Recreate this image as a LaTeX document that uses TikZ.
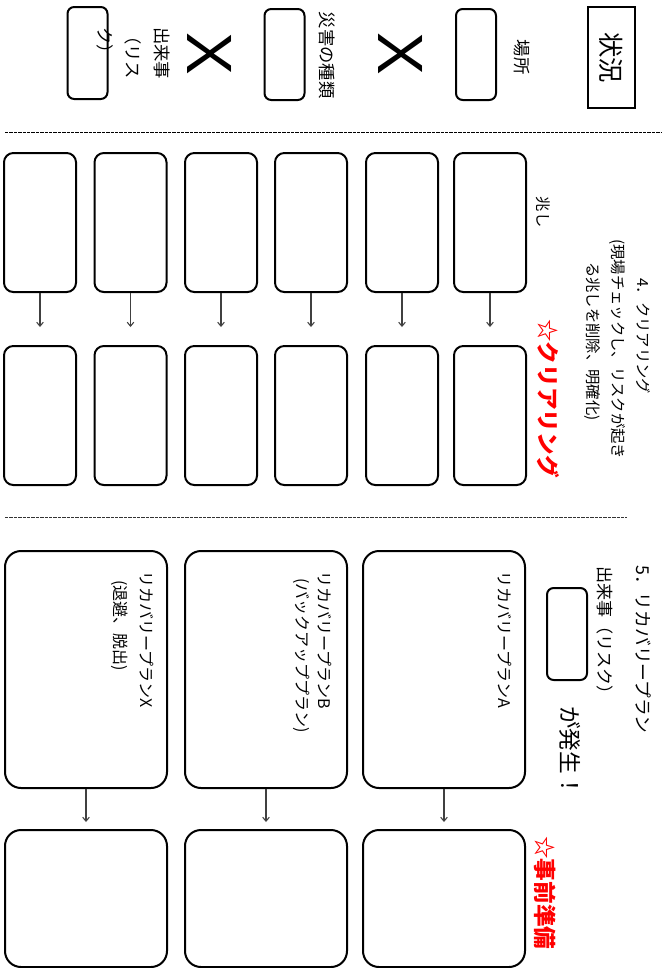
\documentclass[tikz,border=0pt]{standalone}
\usepackage{fontspec}
\setmainfont{Noto Sans CJK JP}
\newfontfamily\xfont{Liberation Sans}
\usetikzlibrary{arrows.meta}
\tikzset{
  rbox/.style={draw, line width=1.5pt, rounded corners=5pt, inner sep=0pt},
  mbox/.style={draw, line width=1.5pt, rounded corners=7pt, inner sep=0pt, minimum width=54pt, minimum height=104.25pt},
  bbox/.style={draw, line width=1.5pt, rounded corners=12pt, inner sep=0pt, minimum width=121.5pt},
  vtext/.style={rotate=-90, inner sep=0pt, font=\fontsize{11.5pt}{14pt}\selectfont},
  ttext/.style={rotate=-90, inner sep=0pt, font=\fontsize{13pt}{15pt}\selectfont},
  xmark/.style={rotate=-90, inner sep=0pt, font=\xfont\fontsize{48pt}{50pt}\selectfont},
  redtext/.style={rotate=-90, inner sep=0pt, text=red, font=\fontsize{17pt}{20pt}\selectfont\bfseries},
  arr/.style={draw=black!75, line width=0.8pt, -{Straight Barb[length=3pt,width=5pt]}},
  sep/.style={line width=0.7pt, dash pattern=on 2.5pt off 0.8pt}
}
\begin{document}
\begin{tikzpicture}[x=0.75pt,y=-0.75pt]
\useasboundingbox (0,0) rectangle (668,968);

% ---- top: situation ----
\node[draw, line width=1.5pt, inner sep=0pt, minimum width=35.25pt, minimum height=75.75pt] (jokyo) at (611.5,57.5) {};
\node[rotate=-90, inner sep=0pt, font=\fontsize{19pt}{22pt}\selectfont] (jokyot) at (611.5,57.5) {状況};

\node[ttext] (basho) at (522,57) {場所};
\node[rbox, minimum width=30pt, minimum height=68.25pt] (bashobox) at (476,54.5) {};
\node[xmark] (x1) at (401,54) {X};
\node[ttext] (saigai) at (327,55) {災害の種類};
\node[rbox, minimum width=30pt, minimum height=68.25pt] (saigaibox) at (284.5,54.5) {};
\node[xmark] (x2) at (210,54) {X};
\node[ttext, anchor=west] (dek1) at (162,27) {出来事};
\node[ttext, anchor=west] (dek2) at (133,27) {（リス};
\node[ttext, anchor=west] (dek3) at (105,27) {ク）};
\node[rbox, minimum width=30pt, minimum height=69pt] (dekbox) at (87.5,53) {};

\coordinate (d1a) at (5,132);
\coordinate (d1b) at (662,132);
\draw[sep] (d1a) -- (d1b);

% ---- 4. clearing ----
\node[vtext, anchor=west] (h4) at (643,278) {4．クリアリング};
\node[vtext, anchor=west] (h4b) at (617,239) {(現場チェックし、リスクが起き};
\node[vtext, anchor=west] (h4c) at (592,262) {る兆しを削除、明確化)};
\node[vtext] (kizashi) at (543,212) {兆し};
\node[redtext, anchor=west] (clr) at (548,319) {☆クリアリング};

\foreach \i/\x in {1/490,2/402,3/311,4/221,5/130.5,6/40}{
  \node[mbox] (u\i) at (\x,222.5) {};
  \node[mbox] (l\i) at (\x,415.5) {};
  \draw[arr, shorten >=13.5pt] (u\i) -- (l\i);
}

\coordinate (d2a) at (5,517);
\coordinate (d2b) at (627,517);
\draw[sep, draw=black!80] (d2a) -- (d2b);

% ---- 5. recovery plan ----
\node[vtext, font=\fontsize{13.3pt}{15pt}\selectfont, anchor=west] (h5) at (643,565) {5．リカバリープラン};
\node[vtext, font=\fontsize{12.8pt}{15pt}\selectfont, anchor=west] (h5b) at (605,566) {出来事（リスク）};
\node[rbox, minimum width=30pt, minimum height=69pt] (h5box) at (567,634) {};
\node[rotate=-90, inner sep=0pt, font=\fontsize{17pt}{20pt}\selectfont, anchor=west] (hassei) at (570,706) {が発生！};
\node[redtext, anchor=west] (jizen) at (545,836) {☆事前準備};

\foreach \i/\x in {A/444,B/266,X/86}{
  \node[bbox, minimum height=177.75pt] (p\i) at (\x,669.5) {};
  \node[bbox, minimum height=102.75pt] (q\i) at (\x,898.5) {};
  \draw[arr, shorten >=5.25pt] (p\i) -- (q\i);
}
\node[vtext, font=\fontsize{12pt}{14pt}\selectfont, anchor=west] (pAt) at (505,571) {リカバリープランA};
\node[vtext, font=\fontsize{12pt}{14pt}\selectfont, anchor=west] (pBt) at (325,571) {リカバリープランB};
\node[vtext, font=\fontsize{12pt}{14pt}\selectfont, anchor=west] (pBt2) at (302,578) {(バックアッププラン)};
\node[vtext, font=\fontsize{12pt}{14pt}\selectfont, anchor=west] (pXt) at (147,571) {リカバリープランX};
\node[vtext, font=\fontsize{12pt}{14pt}\selectfont, anchor=west] (pXt2) at (120,580) {(退避、脱出)};
\end{tikzpicture}
\end{document}
